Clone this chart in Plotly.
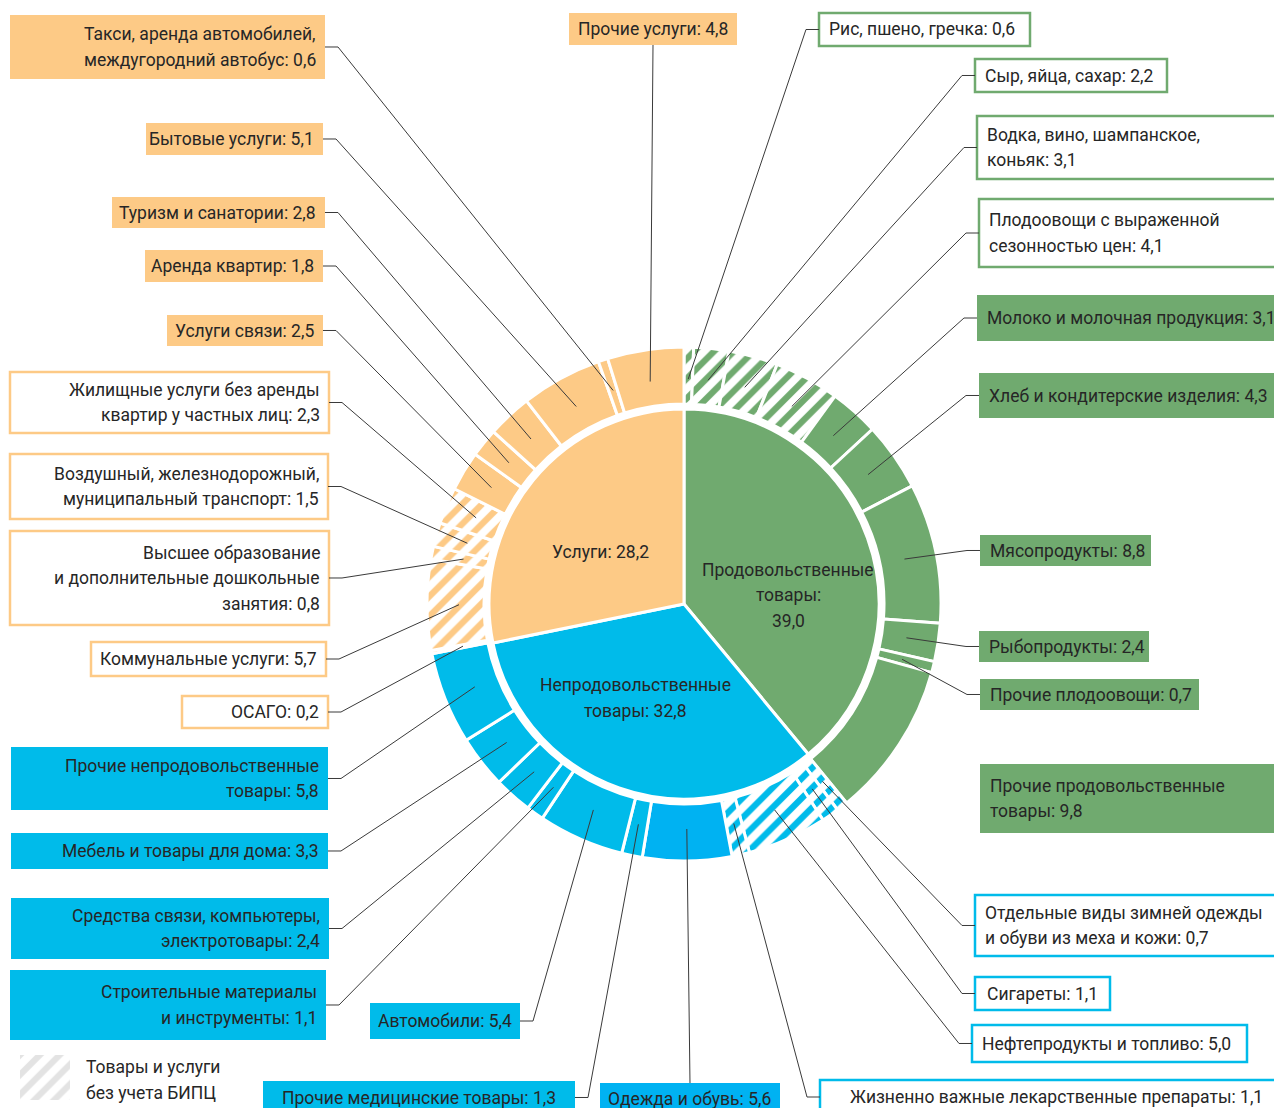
import math
import plotly.graph_objects as go

# screen size of the reference; the page body adds an 8px margin around the figure
SCREEN_W, SCREEN_H = 1282, 1108
OFF = 8
W, H = SCREEN_W - OFF, SCREEN_H - OFF

CX, CY = 684, 604          # pie centre, screen px
R_OUT, R_HOLE, R_IN = 257, 200, 195
R_LEAD = 225               # where leader lines touch the outer ring
LINE_H = 25.5              # text line pitch, px

GREEN = '#70aa6f'
BLUE = '#00bbea'
BLUE_BRIGHT = '#00b2f2'
ORANGE = '#fdca86'
TEXT = '#262626'
LINE = '#3a3a3a'
FONT = 'Roboto'
FSIZE = 17.5

# ---- data -------------------------------------------------------------
inner_labels = ['Продовольственные товары', 'Непродовольственные товары', 'Услуги']
inner_values = [39.0, 32.8, 28.2]

food_labels = [
    'Рис, пшено, гречка',
    'Сыр, яйца, сахар',
    'Водка, вино, шампанское,\nконьяк',
    'Плодоовощи с выраженной\nсезонностью цен',
    'Молоко и молочная продукция',
    'Хлеб и кондитерские изделия',
    'Мясопродукты',
    'Рыбопродукты',
    'Прочие плодоовощи',
    'Прочие продовольственные\nтовары',
]
food_values = [0.6, 2.2, 3.1, 4.1, 3.1, 4.3, 8.8, 2.4, 0.7, 9.8]
food_excluded = [1, 1, 1, 1, 0, 0, 0, 0, 0, 0]

nonfood_labels = [
    'Отдельные виды зимней одежды\nи обуви из меха и кожи',
    'Сигареты',
    'Нефтепродукты и топливо',
    'Жизненно важные лекарственные препараты',
    'Одежда и обувь',
    'Прочие медицинские товары',
    'Автомобили',
    'Строительные материалы\nи инструменты',
    'Средства связи, компьютеры,\nэлектротовары',
    'Мебель и товары для дома',
    'Прочие непродовольственные\nтовары',
]
nonfood_values = [0.7, 1.1, 5.0, 1.1, 5.6, 1.3, 5.4, 1.1, 2.4, 3.3, 5.8]
nonfood_excluded = [1, 1, 1, 1, 0, 0, 0, 0, 0, 0, 0]

services_labels = [
    'ОСАГО',
    'Коммунальные услуги',
    'Высшее образование\nи дополнительные дошкольные\nзанятия',
    'Воздушный, железнодорожный,\nмуниципальный транспорт',
    'Жилищные услуги без аренды\nквартир у частных лиц',
    'Услуги связи',
    'Аренда квартир',
    'Туризм и санатории',
    'Бытовые услуги',
    'Такси, аренда автомобилей,\nмеждугородний автобус',
    'Прочие услуги',
]
services_values = [0.2, 5.7, 0.8, 1.5, 2.3, 2.5, 1.8, 2.8, 5.1, 0.6, 4.8]
services_excluded = [1, 1, 1, 1, 1, 0, 0, 0, 0, 0, 0]

# label boxes: x0, y0, x1, y1 (screen px), filled?, leader side, text align
boxes = {
    'Прочие услуги': (569, 13, 737, 45, True, 'bottom', 'c'),
    'Такси, аренда автомобилей,\nмеждугородний автобус': (10, 15, 325, 79, True, 'right', 'r'),
    'Бытовые услуги': (146, 123, 323, 155, True, 'right', 'r'),
    'Туризм и санатории': (112, 197, 325, 228, True, 'right', 'r'),
    'Аренда квартир': (145, 250, 323, 282, True, 'right', 'r'),
    'Услуги связи': (167, 315, 323, 346, True, 'right', 'r'),
    'Жилищные услуги без аренды\nквартир у частных лиц': (10, 372, 329, 433, False, 'right', 'r'),
    'Воздушный, железнодорожный,\nмуниципальный транспорт': (10, 454, 328, 519, False, 'right', 'r'),
    'Высшее образование\nи дополнительные дошкольные\nзанятия': (10, 531, 329, 625, False, 'right', 'r'),
    'Коммунальные услуги': (91, 642, 326, 676, False, 'right', 'r'),
    'ОСАГО': (182, 696, 328, 728, False, 'right', 'r'),
    'Прочие непродовольственные\nтовары': (11, 747, 328, 810, True, 'right', 'r'),
    'Мебель и товары для дома': (11, 833, 328, 869, True, 'right', 'r'),
    'Средства связи, компьютеры,\nэлектротовары': (11, 898, 329, 959, True, 'right', 'r'),
    'Строительные материалы\nи инструменты': (10, 970, 326, 1040, True, 'right', 'r'),
    'Автомобили': (370, 1003, 520, 1039, True, 'right', 'c'),
    'Прочие медицинские товары': (263, 1081, 575, 1114, True, 'right', 'c'),
    'Одежда и обувь': (600, 1083, 780, 1114, True, 'top', 'c'),
    'Жизненно важные лекарственные препараты': (820, 1080, 1292, 1114, False, 'left', 'c'),
    'Нефтепродукты и топливо': (972, 1025, 1247, 1062, False, 'left', 'l'),
    'Сигареты': (975, 977, 1110, 1010, False, 'left', 'c'),
    'Отдельные виды зимней одежды\nи обуви из меха и кожи': (975, 895, 1292, 956, False, 'left', 'l'),
    'Рис, пшено, гречка': (819, 13, 1030, 46, False, 'left', 'l'),
    'Сыр, яйца, сахар': (975, 59, 1167, 92, False, 'left', 'l'),
    'Водка, вино, шампанское,\nконьяк': (977, 116, 1292, 179, False, 'left', 'l'),
    'Плодоовощи с выраженной\nсезонностью цен': (979, 199, 1292, 267, False, 'left', 'l'),
    'Молоко и молочная продукция': (977, 295, 1292, 341, True, 'left', 'l'),
    'Хлеб и кондитерские изделия': (979, 373, 1292, 418, True, 'left', 'l'),
    'Мясопродукты': (980, 535, 1151, 566, True, 'left', 'l'),
    'Рыбопродукты': (979, 631, 1149, 662, True, 'left', 'l'),
    'Прочие плодоовощи': (980, 679, 1199, 710, True, 'left', 'l'),
    'Прочие продовольственные\nтовары': (980, 764, 1292, 833, True, None, 'l'),
}


def px(x):
    return (x - OFF) / W


def py(y):
    return 1 - (y - OFF) / H


def fmt(v):
    return f'{v:.1f}'.replace('.', ',')


annotations = []


def add_text(text, x, y, xanchor='center', align='center'):
    # one annotation per line, so the line pitch can follow the reference
    lines = text.split('\n')
    n = len(lines)
    for i, ln in enumerate(lines):
        annotations.append(dict(
            text=ln, xref='paper', yref='paper',
            x=px(x), y=py(y + (i - (n - 1) / 2) * LINE_H),
            xanchor=xanchor, yanchor='middle', align=align, showarrow=False,
            font=dict(family=FONT, size=FSIZE, color=TEXT),
        ))


outer_labels = food_labels + nonfood_labels + services_labels
outer_values = food_values + nonfood_values + services_values
outer_excluded = food_excluded + nonfood_excluded + services_excluded

group_color = {}
for n in food_labels:
    group_color[n] = GREEN
for n in nonfood_labels:
    group_color[n] = BLUE
for n in services_labels:
    group_color[n] = ORANGE
group_color['Одежда и обувь'] = BLUE_BRIGHT
outer_colors = [group_color[n] for n in outer_labels]

fig = go.Figure()

fig.add_trace(go.Pie(
    labels=[l.replace('\n', ' ') for l in outer_labels],
    values=outer_values,
    sort=False,
    direction='clockwise',
    rotation=0,
    hole=R_HOLE / R_OUT,
    domain=dict(x=[px(CX - R_OUT), px(CX + R_OUT)], y=[py(CY + R_OUT), py(CY - R_OUT)]),
    marker=dict(
        colors=outer_colors,
        line=dict(color='white', width=3),
        pattern=dict(
            shape=['/' if e else '' for e in outer_excluded],
            fgcolor=outer_colors,
            bgcolor=['white' if e else c for e, c in zip(outer_excluded, outer_colors)],
            size=14,
            solidity=0.45,
        ),
    ),
    textinfo='none',
    hoverinfo='label+value',
    showlegend=False,
))

fig.add_trace(go.Pie(
    labels=inner_labels,
    values=inner_values,
    sort=False,
    direction='clockwise',
    rotation=0,
    domain=dict(x=[px(CX - R_IN), px(CX + R_IN)], y=[py(CY + R_IN), py(CY - R_IN)]),
    marker=dict(colors=[GREEN, BLUE, ORANGE], line=dict(color='white', width=3)),
    textinfo='none',
    hoverinfo='label+value',
    showlegend=False,
))

# legend swatch for the hatched slices
fig.add_trace(go.Bar(
    x=[0], y=[1], width=[1],
    marker=dict(color='white', line=dict(width=0),
                pattern=dict(shape='/', fgcolor='#c8c8c8', bgcolor='white', size=14, solidity=0.45)),
    hoverinfo='skip', showlegend=False,
))

shapes = []

# leader target points from the slice mid-angles
total = sum(outer_values)
cum = 0.0
targets = {}
for name, v in zip(outer_labels, outer_values):
    mid = (cum + v / 2) / total * 2 * math.pi
    targets[name] = (CX + R_LEAD * math.sin(mid), CY - R_LEAD * math.cos(mid))
    cum += v

for name, v in zip(outer_labels, outer_values):
    x0, y0, x1, y1, filled, side, align = boxes[name]
    color = group_color[name]
    shapes.append(dict(
        type='rect', xref='paper', yref='paper',
        x0=px(x0), x1=px(x1), y0=py(y1), y1=py(y0),
        fillcolor=color if filled else 'white',
        line=dict(color=color, width=0 if filled else 2.5),
        layer='above',
    ))
    ym = (y0 + y1) / 2
    if align == 'r':
        add_text(name + ': ' + fmt(v), x1 - 7, ym, 'right', 'right')
    elif align == 'l':
        add_text(name + ': ' + fmt(v), x0 + 8, ym, 'left', 'left')
    else:
        add_text(name + ': ' + fmt(v), (x0 + x1) / 2, ym)

    if side is None:
        continue
    tx, ty = targets[name]
    if side == 'right':
        pts = [(x1, ym), (x1 + 13, ym), (tx, ty)]
    elif side == 'left':
        pts = [(x0, ym), (x0 - 13, ym), (tx, ty)]
    elif side == 'bottom':
        pts = [((x0 + x1) / 2, y1), (tx, ty)]
    else:
        pts = [((x0 + x1) / 2, y0), (tx, ty)]
    path = 'M' + ' L'.join(f'{px(a):.5f},{py(b):.5f}' for a, b in pts)
    shapes.append(dict(type='path', xref='paper', yref='paper', path=path,
                       line=dict(color=LINE, width=1)))

# labels of the inner pie
add_text('Продовольственные\nтовары:\n' + fmt(inner_values[0]), 788, 595)
add_text('Непродовольственные\nтовары: ' + fmt(inner_values[1]), 635, 698)
add_text('Услуги: ' + fmt(inner_values[2]), 600, 552)

add_text('Товары и услуги\nбез учета БИПЦ', 84, 1080, 'left', 'left')

fig.update_layout(
    width=W, height=H,
    margin=dict(l=0, r=0, t=0, b=0),
    paper_bgcolor='white',
    plot_bgcolor='white',
    xaxis=dict(domain=[px(20), px(70)], range=[-0.5, 0.5], visible=False, fixedrange=True),
    yaxis=dict(domain=[py(1100), py(1055)], range=[0, 1], visible=False, fixedrange=True),
    shapes=shapes,
    annotations=annotations,
    font=dict(family=FONT),
)

fig.write_html('out.html')
